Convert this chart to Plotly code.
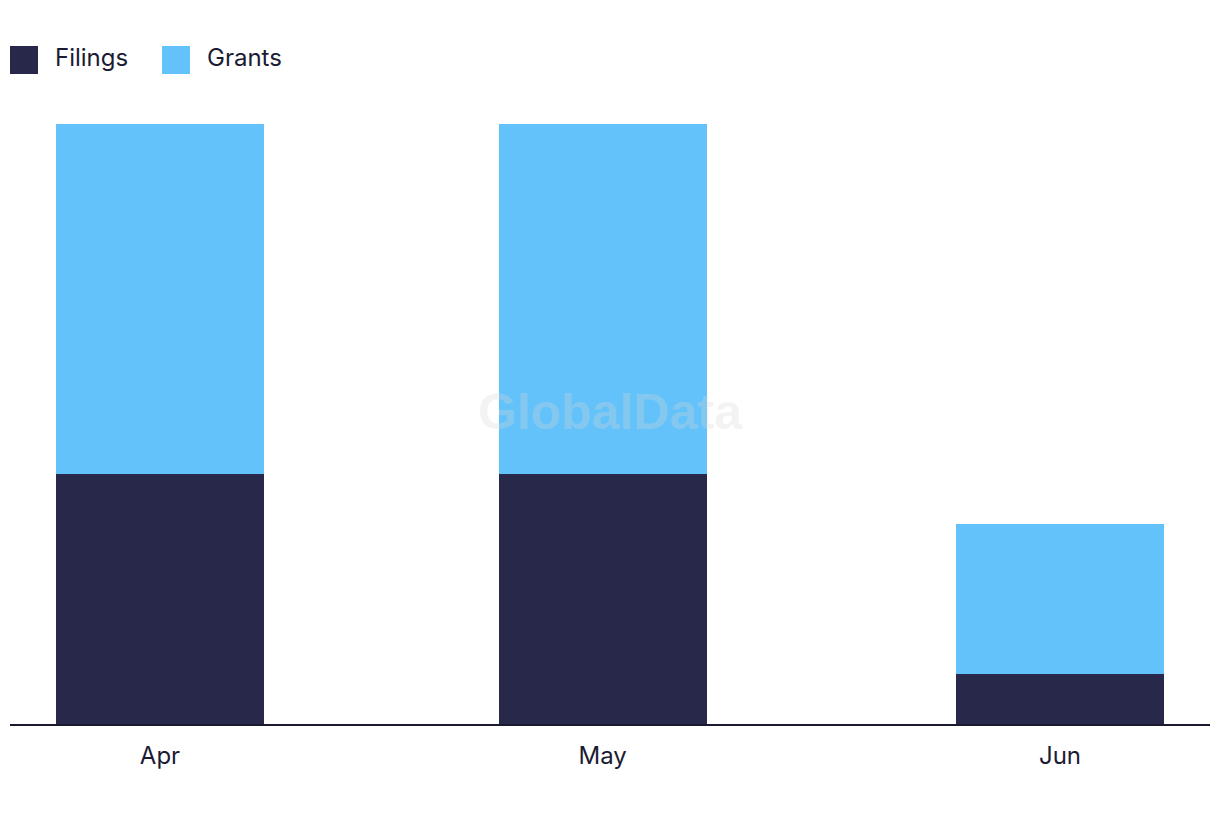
import plotly.graph_objects as go

months = ["2023-04-01", "2023-05-01", "2023-06-01"]
month_labels = ["Apr", "May", "Jun"]
series_names = ["Filings", "Grants"]
filings = [5, 5, 1]
grants = [7, 7, 3]
colors = ["#27284A", "#62C2F9"]

TEXT = "#1b1b33"
FONT = "Inter, Noto Sans, sans-serif"
bar_w = 14.1 * 86400000

fig = go.Figure()
for name, vals, col in zip(series_names, [filings, grants], colors):
    fig.add_trace(go.Bar(x=months, y=vals, name=name, marker=dict(color=col, line=dict(width=0)),
                         width=[bar_w] * len(months), showlegend=False))

# custom legend
leg_x = [0.0, 0.12667]
for i, (name, col) in enumerate(zip(series_names, colors)):
    fig.add_shape(type="rect", xref="paper", yref="paper",
                  x0=leg_x[i], x1=leg_x[i] + 0.02333, y0=1.0833, y1=1.13,
                  fillcolor=col, line=dict(width=0))
    fig.add_annotation(xref="paper", yref="paper", x=leg_x[i] + 0.0358, y=1.111,
                       text=name, showarrow=False, xanchor="left", yanchor="middle",
                       font=dict(family=FONT, size=24, color=TEXT))

# watermark
fig.add_annotation(xref="paper", yref="paper", x=0.5, y=0.52, text="<b>GlobalData</b>",
                   showarrow=False, font=dict(family="Liberation Sans, Arial", size=50,
                                              color="rgba(215,215,215,0.3)"))

fig.update_layout(
    barmode="stack",
    width=1220, height=822,
    margin=dict(l=10, r=10, t=124, b=98),
    paper_bgcolor="white", plot_bgcolor="white",
    font=dict(family=FONT, color=TEXT, size=24),
    xaxis=dict(type="date", range=["2023-03-21 20:00", "2023-06-11 04:00"],
               tickvals=months, ticktext=month_labels, showgrid=False, zeroline=False,
               showline=True, linewidth=2, linecolor="#1a1a2e", ticks="",
               ticklabelstandoff=9,
               tickfont=dict(size=24, color=TEXT, family=FONT)),
    yaxis=dict(range=[0, 12], visible=False, showgrid=False, zeroline=False),
)

fig.write_html("out.html")
